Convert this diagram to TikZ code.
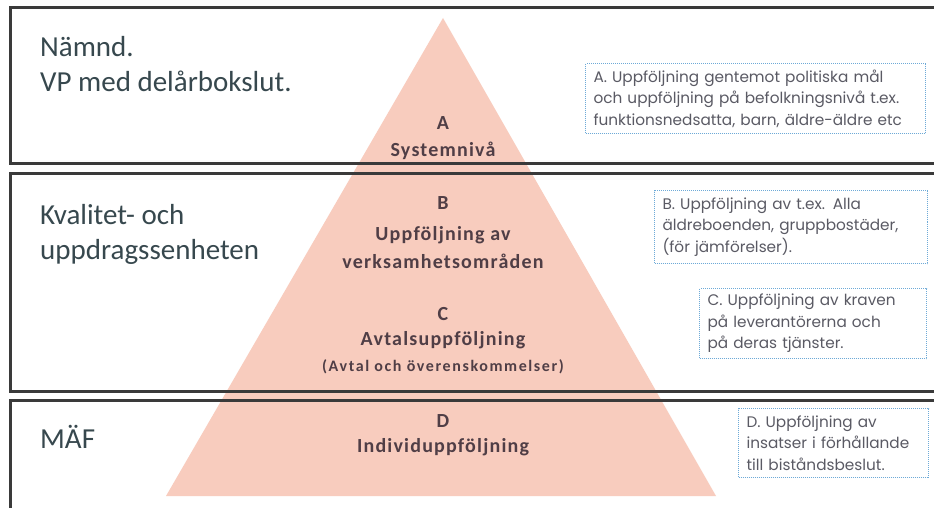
\documentclass[tikz,border=0pt]{standalone}
\usepackage{fontspec}
\setmainfont{Carlito}
\newfontfamily\boxfont{Poppins}
\newfontfamily\pyrfont[LetterSpace=6]{Carlito}
\newfontfamily\pyrsmallfont[LetterSpace=10]{Carlito}
\definecolor{band}{RGB}{58,58,58}
\definecolor{pyr}{RGB}{248,204,190}
\definecolor{pyrtext}{RGB}{80,62,70}
\definecolor{bandtext}{RGB}{55,72,78}
\definecolor{boxline}{RGB}{110,170,215}
\definecolor{boxtext}{RGB}{90,90,100}
\tikzset{
  bandframe/.style={draw=band, line width=3pt},
  bandlabel/.style={anchor=west, align=left, font=\fontsize{29}{35}\selectfont, text=bandtext, inner sep=0pt},
  pyrlabel/.style={anchor=center, font=\pyrfont\bfseries\fontsize{20}{25}\selectfont, text=pyrtext, inner sep=0pt},
  pyrsmall/.style={anchor=center, font=\pyrsmallfont\bfseries\fontsize{16}{18}\selectfont, text=pyrtext, inner sep=0pt},
  notebox/.style={draw=boxline, line width=1pt, densely dotted, anchor=north west, align=left,
    font=\boxfont\fontsize{15.3}{21.5}\selectfont, text=boxtext, inner xsep=8pt, inner ysep=4pt}
}
\begin{document}
\begin{tikzpicture}[x=1pt,y=-1pt]
\useasboundingbox (0,0) rectangle (934,508);
\clip (0,0) rectangle (934,508);
\fill[white] (0,0) rectangle (934,508);
% pyramid
\coordinate (apex) at (443,18);
\coordinate (bl) at (166,496);
\coordinate (br) at (716,496);
\fill[pyr] (apex) -- (br) -- (bl) -- cycle;
% bands
\draw[bandframe] (10,8) rectangle (960,163);
\draw[bandframe] (10,173) rectangle (960,391);
\draw[bandframe] (10,400) rectangle (960,530);
% band labels
\node[bandlabel] (n1) at (40,64) {Nämnd.\\VP med delårbokslut.};
\node[bandlabel] (n2) at (40,234) {Kvalitet- och\\uppdragssenheten};
\node[bandlabel] (n3) at (40,437) {MÄF};
% pyramid labels
\node[pyrlabel] (a1) at (443,123) {A};
\node[pyrlabel] (a2) at (443,151) {Systemnivå};
\node[pyrlabel] (b1) at (443,203) {B};
\node[pyrlabel] (b2) at (443,235) {Uppföljning av};
\node[pyrlabel] (b3) at (443,261) {verksamhetsområden};
\node[pyrlabel] (c1) at (443,314) {C};
\node[pyrlabel] (c2) at (443,340) {Avtalsuppföljning};
\node[pyrsmall] (c3) at (443,367) {(Avtal och överenskommelser)};
\node[pyrlabel] (d1) at (443,421) {D};
\node[pyrlabel] (d2) at (443,447) {Individuppföljning};
% note boxes
\node[notebox, text width=324pt, minimum height=70pt] (na) at (585,63)
  {A. Uppföljning gentemot politiska mål\\och uppföljning på befolkningsnivå t.ex.\\funktionsnedsatta, barn, äldre-äldre etc};
\node[notebox, text width=257pt, minimum height=73pt] (nb) at (654,190)
  {B. Uppföljning av t.ex. Alla\\äldreboenden, gruppbostäder,\\(för jämförelser).};
\node[notebox, text width=211pt, minimum height=70pt] (nc) at (699,288)
  {C. Uppföljning av kraven\\på leverantörerna och\\på deras tjänster.};
\node[notebox, text width=174pt, minimum height=69pt] (nd) at (738,408)
  {D. Uppföljning av\\insatser i förhållande\\till biståndsbeslut.};
\end{tikzpicture}
\end{document}
